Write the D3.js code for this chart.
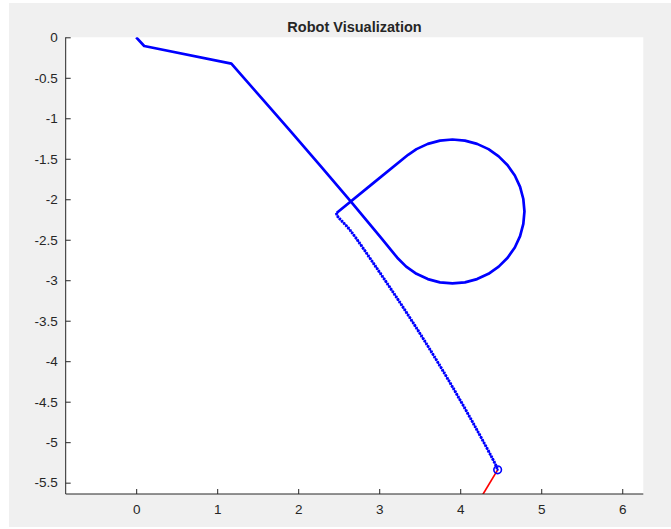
<!DOCTYPE html>
<html>
<head>
<meta charset="utf-8">
<script src="https://cdn.jsdelivr.net/npm/d3@7"></script>
<style>
  html, body { margin: 0; padding: 0; background: #ffffff; }
  svg { display: block; }
  text { font-family: Helvetica, "Liberation Sans", Arial, sans-serif; fill: #262626; }
</style>
</head>
<body>
<div id="chart"></div>
<script>
const width = 671;
const height = 529;

const titleText = "Robot Visualization";

// ticks
const xTicks = [0, 1, 2, 3, 4, 5, 6];
const yTicks = [0, -0.5, -1, -1.5, -2, -2.5, -3, -3.5, -4, -4.5, -5, -5.5];
const xLimits = [-0.87, 6.26];
const yLimits = [-5.64, 0];

// driven path (solid part): straight run, bend, loop round the circle, back out
const solidX = [0, 0.099, 1.175, 1.540, 1.910, 2.280, 2.651, 3.021,
    3.223, 3.333, 3.460, 3.600, 3.750, 3.904, 4.058, 4.208, 4.349, 4.475, 4.585, 4.674, 4.739, 4.779,
    4.793, 4.779, 4.739, 4.674, 4.585, 4.475, 4.349, 4.208, 4.058, 3.904, 3.750, 3.600, 3.460, 3.357,
    2.915, 2.474];
const solidY = [0, -0.107, -0.325, -0.743, -1.165, -1.594, -2.030, -2.473,
    -2.722, -2.832, -2.921, -2.986, -3.026, -3.040, -3.026, -2.986, -2.921, -2.832, -2.722, -2.596, -2.455, -2.305,
    -2.151, -1.997, -1.847, -1.707, -1.580, -1.470, -1.381, -1.316, -1.276, -1.262, -1.276, -1.316, -1.381, -1.451,
    -1.810, -2.170];

// sampled part (dense point markers)
const dotX = [2.474, 2.480, 2.638, 2.985, 3.316, 3.630, 3.926, 4.206, 4.437, 4.462];
const dotY = [-2.170, -2.200, -2.379, -2.873, -3.367, -3.861, -4.354, -4.848, -5.280, -5.342];

// robot pose + heading
const robotX = 4.462;
const robotY = -5.342;
const headingX = [4.462, 4.204];
const headingY = [-5.342, -5.771];

const plot = { left: 65.7, right: 643.3, top: 37.3, bottom: 494 };

const svg = d3.select("#chart").append("svg")
    .attr("width", width).attr("height", height);

// figure background
svg.append("rect")
    .attr("x", 9).attr("y", 3)
    .attr("width", width - 9).attr("height", 524)
    .attr("fill", "#f0f0f0");

svg.append("rect")
    .attr("x", plot.left).attr("y", plot.top)
    .attr("width", plot.right - plot.left).attr("height", plot.bottom - plot.top)
    .attr("fill", "#ffffff");

const x = d3.scaleLinear().domain(xLimits).range([plot.left, plot.right]);
const y = d3.scaleLinear().domain(yLimits).range([plot.bottom, plot.top]);

svg.append("clipPath").attr("id", "clip")
  .append("rect")
    .attr("x", plot.left).attr("y", plot.top)
    .attr("width", plot.right - plot.left).attr("height", plot.bottom - plot.top);

const g = svg.append("g").attr("clip-path", "url(#clip)");

const line = d3.line().x(d => x(d[0])).y(d => y(d[1]));
const smooth = d3.line().x(d => x(d[0])).y(d => y(d[1])).curve(d3.curveCatmullRom.alpha(0.5));

const solidPts = d3.zip(solidX, solidY);
const dotPts = d3.zip(dotX, dotY);

g.append("path")
    .attr("d", line(solidPts))
    .attr("fill", "none").attr("stroke", "#0000ff")
    .attr("stroke-width", 2.7).attr("stroke-linejoin", "round");

g.append("path")
    .attr("d", smooth(dotPts))
    .attr("fill", "none").attr("stroke", "#0000ff")
    .attr("stroke-width", 1.2);

g.append("path")
    .attr("d", smooth(dotPts))
    .attr("fill", "none").attr("stroke", "#0000ff")
    .attr("stroke-width", 3).attr("stroke-dasharray", "2 1.1");

g.append("path")
    .attr("d", line(d3.zip(headingX, headingY)))
    .attr("fill", "none").attr("stroke", "#ff0000")
    .attr("stroke-width", 1.7);

g.append("circle")
    .attr("cx", x(robotX)).attr("cy", y(robotY)).attr("r", 3.8)
    .attr("fill", "none").attr("stroke", "#0000ff").attr("stroke-width", 1.6);
g.append("circle")
    .attr("cx", x(robotX)).attr("cy", y(robotY)).attr("r", 1.1)
    .attr("fill", "#0000ff");

// axes (MATLAB style: ticks inward, box off)
const axisColor = "#262626";

const xAxis = svg.append("g")
    .attr("transform", `translate(0,${plot.bottom})`)
    .call(d3.axisBottom(x).tickValues(xTicks).tickFormat(d3.format("d")).tickSizeInner(-5).tickSizeOuter(0).tickPadding(10));
xAxis.select(".domain").attr("stroke", axisColor).attr("d", `M${plot.left},0H${plot.right}`);
xAxis.selectAll(".tick line").attr("stroke", axisColor);
xAxis.selectAll(".tick text").attr("font-size", 13.5).attr("fill", axisColor);

const yAxis = svg.append("g")
    .attr("transform", `translate(${plot.left},0)`)
    .call(d3.axisLeft(y).tickValues(yTicks).tickFormat(d => String(d)).tickSizeInner(-5).tickSizeOuter(0).tickPadding(8));
yAxis.select(".domain").attr("stroke", axisColor).attr("d", `M0,${plot.top}V${plot.bottom}`);
yAxis.selectAll(".tick line").attr("stroke", axisColor);
yAxis.selectAll(".tick text").attr("font-size", 13.5).attr("fill", axisColor);

svg.selectAll(".tick text").attr("font-family", null);

svg.append("text")
    .attr("x", (plot.left + plot.right) / 2).attr("y", 31.5)
    .attr("text-anchor", "middle")
    .attr("font-size", 14.5).attr("font-weight", "bold")
    .text(titleText);
</script>
</body>
</html>
